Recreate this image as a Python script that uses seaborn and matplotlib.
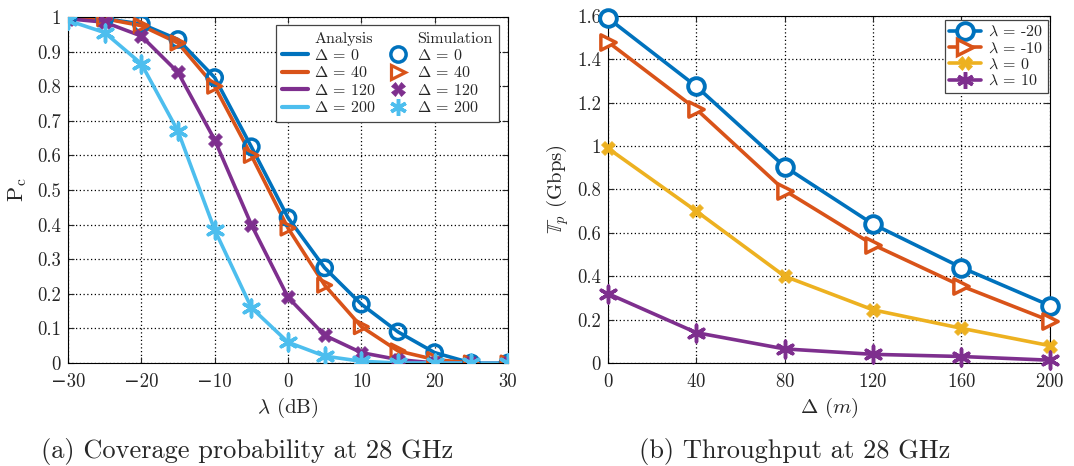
import numpy as np
import pandas as pd
import seaborn as sns
import matplotlib
matplotlib.use("Agg")
import matplotlib.pyplot as plt
from matplotlib.lines import Line2D

# ---------------- data ----------------
snr_db = [-30, -25, -20, -15, -10, -5, 0, 5, 10, 15, 20, 25, 30]
pc_d0 = [1.0, 0.995, 0.98, 0.935, 0.825, 0.625, 0.42, 0.275, 0.17, 0.09, 0.03, 0.0, 0.0]
pc_d40 = [1.0, 0.995, 0.975, 0.925, 0.80, 0.60, 0.39, 0.225, 0.105, 0.035, 0.01, 0.0, 0.0]
pc_d120 = [0.995, 0.985, 0.945, 0.84, 0.645, 0.40, 0.19, 0.08, 0.03, 0.01, 0.0, 0.0, 0.0]
pc_d200 = [0.99, 0.955, 0.865, 0.67, 0.385, 0.16, 0.06, 0.02, 0.005, 0.0, 0.0, 0.0, 0.0]
delta_labels = ["0", "40", "120", "200"]

delta_m = [0, 40, 80, 120, 160, 200]
tp_lm20 = [1.59, 1.275, 0.905, 0.64, 0.44, 0.265]
tp_lm10 = [1.48, 1.17, 0.795, 0.545, 0.355, 0.195]
tp_l0 = [0.99, 0.70, 0.40, 0.245, 0.16, 0.08]
tp_l10 = [0.32, 0.14, 0.065, 0.04, 0.03, 0.013]
lambda_labels = ["-20", "-10", "0", "10"]

# ---------------- style ----------------
sns.set_style("ticks")
plt.rcParams["font.family"] = ["cmr10", "DejaVu Serif"]
plt.rcParams["mathtext.fontset"] = "cm"
plt.rcParams["axes.formatter.use_mathtext"] = True
plt.rcParams["axes.unicode_minus"] = True

blue, orange, purple, lblue, yellow = "#0072BD", "#D95319", "#7E2F8E", "#4DBEEE", "#EDB120"
asterisk = (6, 2, 0)

fig = plt.figure(figsize=(10.74, 4.66), dpi=100)
axL = fig.add_axes([0.0633, 0.221, 0.4097, 0.7425])
axR = fig.add_axes([0.566, 0.221, 0.4115, 0.745])

def style_axes(ax):
    ax.grid(True, color="black", linestyle=(0, (1, 2)), linewidth=0.9)
    ax.tick_params(direction="in", top=True, right=True, labelsize=13.5, length=4, width=0.8)
    ax.tick_params(axis="x", pad=7)
    ax.tick_params(axis="y", pad=5)
    for s in ax.spines.values():
        s.set_visible(True)
        s.set_linewidth(0.8)
        s.set_color("black")

# ---------------- left ----------------
left_series = [pc_d0, pc_d40, pc_d120, pc_d200]
left_colors = [blue, orange, purple, lblue]
left_markers = ["o", ">", "X", asterisk]
left_ms = [11, 10, 10, 12]
left_mew = [2.5, 2.3, 0.5, 2.5]
for ys, c, m, ms, mew in zip(left_series, left_colors, left_markers, left_ms, left_mew):
    df = pd.DataFrame({"x": snr_db, "y": ys})
    sns.lineplot(data=df, x="x", y="y", ax=axL, color=c, linewidth=2.6, zorder=2)
    face = "none" if m in ("o", ">") else c
    sns.scatterplot(data=df, x="x", y="y", ax=axL, marker=m, s=ms ** 2,
                    facecolor=face, edgecolor=c, linewidth=mew, zorder=3)

axL.set_xlim(-30, 30)
axL.set_ylim(0, 1)
axL.set_xticks(range(-30, 31, 10))
axL.set_yticks(np.round(np.arange(0, 1.01, 0.1), 1))
axL.set_yticklabels(["0"] + [f"{v:.1f}" for v in np.arange(0.1, 0.95, 0.1)] + ["1"])
axL.set_xticklabels(["\u221230", "\u221220", "\u221210", "0", "10", "20", "30"])
axL.set_xlabel(r"$\lambda$ (dB)", fontsize=15, labelpad=4)
axL.set_ylabel(r"$\mathrm{P_c}$", fontsize=16, labelpad=6)
style_axes(axL)

blank = Line2D([], [], linestyle="none", marker="none")
lh = [blank] + [Line2D([], [], color=c, linewidth=3) for c in left_colors]
sh = [blank]
for c, m, ms, mew in zip(left_colors, left_markers, left_ms, left_mew):
    face = "none" if m in ("o", ">") else c
    sh.append(Line2D([], [], linestyle="none", marker=m, markersize=ms,
                     markerfacecolor=face, markeredgecolor=c, markeredgewidth=mew))
labs_a = ["Analysis"] + [rf"$\Delta$ = {d}" for d in delta_labels]
labs_s = ["Simulation"] + [rf"$\Delta$ = {d}" for d in delta_labels]
legL = axL.legend(lh + sh, labs_a + labs_s, ncol=2, loc="upper right",
                  bbox_to_anchor=(0.98, 0.977), borderaxespad=0, fontsize=11.5,
                  frameon=True, fancybox=False, edgecolor="#444444", framealpha=1,
                  handlelength=1.6, handletextpad=0.4, columnspacing=0.6,
                  labelspacing=0.15, borderpad=0.4)
legL.get_frame().set_linewidth(0.9)

# ---------------- right ----------------
right_series = [tp_lm20, tp_lm10, tp_l0, tp_l10]
right_colors = [blue, orange, yellow, purple]
right_markers = ["o", ">", "X", asterisk]
right_ms = [12, 11, 10, 12]
right_mew = [2.8, 2.5, 0.5, 2.5]
handles = []
for ys, c, m, ms, mew, lab in zip(right_series, right_colors, right_markers,
                                   right_ms, right_mew, lambda_labels):
    df = pd.DataFrame({"x": delta_m, "y": ys})
    sns.lineplot(data=df, x="x", y="y", ax=axR, color=c, linewidth=2.6, zorder=2)
    face = "white" if m in ("o", ">") else c
    sns.scatterplot(data=df, x="x", y="y", ax=axR, marker=m, s=ms ** 2,
                    facecolor=face, edgecolor=c, linewidth=mew, zorder=3, clip_on=False)
    handles.append(Line2D([], [], color=c, linewidth=2.6, marker=m, markersize=ms,
                          markerfacecolor=face, markeredgecolor=c, markeredgewidth=mew))

axR.set_xlim(0, 200)
axR.set_ylim(0, 1.6)
axR.set_xticks(delta_m)
yt = np.round(np.arange(0, 1.61, 0.2), 1)
axR.set_yticks(yt)
axR.set_yticklabels(["0", "0.2", "0.4", "0.6", "0.8", "1", "1.2", "1.4", "1.6"])
axR.set_xlabel(r"$\Delta$ ($m$)", fontsize=15, labelpad=4)
axR.set_ylabel(r"$\mathbb{T}_p$ (Gbps)", fontsize=15, labelpad=4)
style_axes(axR)
legR = axR.legend(handles, [rf"$\lambda$ = {l}" for l in lambda_labels],
                  loc="upper right", bbox_to_anchor=(0.995, 0.988), borderaxespad=0,
                  fontsize=11.5, frameon=True, fancybox=False, edgecolor="#444444",
                  framealpha=1, handlelength=2.0, handletextpad=0.4,
                  labelspacing=0.12, borderpad=0.3)
legR.get_frame().set_linewidth(0.9)

# ---------------- captions ----------------
fig.text(0.230, 0.017, "(a) Coverage probability at 28 GHz", ha="center", va="baseline", fontsize=19)
fig.text(0.740, 0.017, "(b) Throughput at 28 GHz", ha="center", va="baseline", fontsize=19)

fig.savefig("out.png", dpi=100)
